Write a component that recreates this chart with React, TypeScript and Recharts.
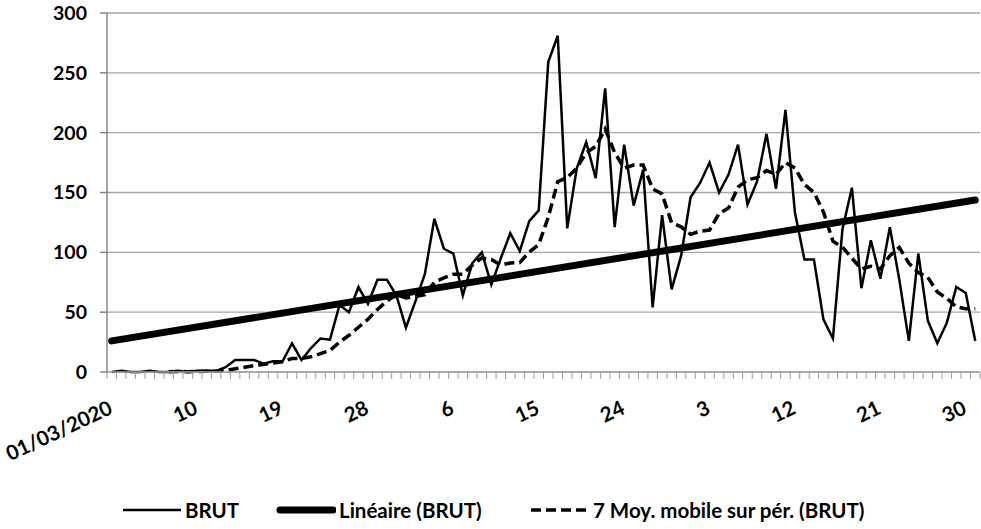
import React from "react";
import { LineChart, Line, XAxis, YAxis, CartesianGrid } from "recharts";

// Categories: 01/03/2020 .. 31/05/2020
const months = [
  { mm: "03", days: 31 },
  { mm: "04", days: 30 },
  { mm: "05", days: 31 },
];
const dates: string[] = [];
months.forEach((m) => {
  for (let d = 1; d <= m.days; d++) {
    dates.push(`${String(d).padStart(2, "0")}/${m.mm}/2020`);
  }
});

// BRUT daily values
const brut = [
  0, 1, 0, 0, 1, 0, 0, 1, 0, 1,
  1, 1, 4, 10, 10, 10, 7, 9, 9, 24,
  10, 20, 28, 27, 56, 50, 71, 57, 77, 77,
  64, 37, 59, 82, 128, 103, 99, 64, 91, 100,
  73, 95, 116, 101, 126, 135, 259, 281, 120, 170,
  192, 162, 237, 121, 190, 139, 169, 54, 131, 69,
  97, 146, 158, 175, 150, 165, 190, 140, 159, 199,
  153, 219, 133, 94, 94, 44, 28, 119, 154, 70,
  110, 78, 121, 77, 26, 99, 43, 24, 41, 71,
  66, 26,
];

// 7-period moving average (starts at the 7th day)
const movingAvg: (number | null)[] = [
  null, null, null, null, null, null, 0.3, 0.4, 0.3, 0.4,
  0.6, 0.6, 1.3, 2.7, 4, 5.4, 6.3, 7.4, 8.6, 11.3,
  11.3, 12.7, 15.3, 18.1, 24.9, 30.7, 37.4, 44.1, 52.3, 59.3,
  64.6, 61.9, 63.1, 64.7, 74.9, 78.6, 81.7, 81.7, 89.4, 95.3,
  94, 89.3, 91.1, 91.4, 100.3, 106.6, 129.3, 159, 162.6, 170.3,
  183.3, 188.4, 203, 183.3, 170.3, 173, 172.9, 153.1, 148.7, 124.7,
  121.3, 115, 117.7, 118.6, 132.3, 137.1, 154.4, 160.6, 162.4, 168.3,
  165.1, 175, 170.4, 156.7, 150.1, 133.7, 109.3, 104.4, 95.1, 86.1,
  88.4, 86.1, 97.1, 104.1, 90.9, 83, 79.1, 66.9, 61.6, 54.4,
  52.9, 52.9,
];

// Linear trend end points
const trendStart = 26;
const trendEnd = 143.7;

const yTicks = [0, 50, 100, 150, 200, 250, 300];
const labelEvery = 9;

const data = dates.map((d, i) => ({
  date: d,
  brut: brut[i],
  ma: movingAvg[i],
  trend: i === 0 ? trendStart : i === dates.length - 1 ? trendEnd : null,
}));

const W = 981;
const H = 529;
const PLOT_LEFT = 107;
const PLOT_RIGHT = 1;
const STEP = (W - PLOT_LEFT - PLOT_RIGHT) / dates.length;
const HALF = STEP / 2;
const FONT = "Lato, 'Open Sans', sans-serif";

const XTick = (props: any) => {
  const { x, y, payload } = props;
  const i: number = payload?.index ?? props.index ?? 0;
  const last = dates.length - 1;
  const show = i % labelEvery === 0;
  const label = i === 0 ? dates[0] : String(parseInt(dates[i].slice(0, 2), 10));
  const ax = x + 2;
  const ay = y + 41;
  return (
    <g>
      <line x1={x - HALF} x2={x - HALF} y1={y} y2={y + 7} stroke="#9a9a9a" strokeWidth={1} />
      {i === last && (
        <line x1={x + HALF} x2={x + HALF} y1={y} y2={y + 7} stroke="#9a9a9a" strokeWidth={1} />
      )}
      {show && (
        <text
          x={ax}
          y={ay}
          textAnchor="end"
          transform={`rotate(-25, ${ax}, ${ay})`}
          fontFamily={FONT}
          fontWeight={700}
          fontSize={20.5}
          fill="#000"
        >
          {label}
        </text>
      )}
    </g>
  );
};

const LegendItem = ({ left, kind, text }: { left: number; kind: string; text: string }) => (
  <div style={{ position: "absolute", left, top: 0, height: 24, display: "flex", alignItems: "center" }}>
    <svg width={60} height={12} style={{ display: "block" }}>
      {kind === "thin" && <line x1={1} x2={59} y1={6} y2={6} stroke="#000" strokeWidth={2.5} />}
      {kind === "thick" && (
        <line x1={4} x2={57} y1={6} y2={6} stroke="#000" strokeWidth={7} strokeLinecap="round" />
      )}
      {kind === "dash" && (
        <line x1={1} x2={60} y1={6} y2={6} stroke="#000" strokeWidth={3.5} strokeDasharray="10 5" />
      )}
    </svg>
    <span style={{ marginLeft: 3, fontFamily: FONT, fontWeight: 700, fontSize: 20.5, color: "#000", whiteSpace: "nowrap" }}>
      {text}
    </span>
  </div>
);

export default function App() {
  return (
    <div style={{ position: "absolute", left: 0, top: 0, width: W, height: H, background: "#fff" }}>
      <LineChart width={W} height={H} data={data} margin={{ top: 13, right: PLOT_RIGHT, bottom: 0, left: 1 }}>
        <CartesianGrid vertical={false} stroke="#a6a6a6" strokeWidth={1.4} />
        <XAxis
          dataKey="date"
          interval={0}
          height={157}
          padding={{ left: HALF, right: HALF }}
          tickLine={false}
          tickSize={0}
          tickMargin={0}
          axisLine={{ stroke: "#a6a6a6", strokeWidth: 1.4 }}
          tick={<XTick />}
        />
        <YAxis
          width={106}
          domain={[0, 300]}
          ticks={yTicks}
          interval={0}
          tickSize={7}
          tickMargin={13}
          axisLine={{ stroke: "#7f7f7f", strokeWidth: 1.4 }}
          tickLine={{ stroke: "#7f7f7f", strokeWidth: 1.4 }}
          tick={{ fontFamily: FONT, fontWeight: 700, fontSize: 19.5, fill: "#000" }}
        />
        <Line
          type="linear"
          dataKey="brut"
          stroke="#000"
          strokeWidth={2.5}
          dot={false}
          activeDot={false}
          isAnimationActive={false}
        />
        <Line
          type="linear"
          dataKey="trend"
          stroke="#000"
          strokeWidth={7}
          strokeLinecap="round"
          connectNulls
          dot={false}
          activeDot={false}
          isAnimationActive={false}
        />
        <Line
          type="linear"
          dataKey="ma"
          stroke="#000"
          strokeWidth={3.5}
          strokeDasharray="10 5"
          dot={false}
          activeDot={false}
          isAnimationActive={false}
        />
      </LineChart>
      <div style={{ position: "absolute", left: 0, top: 498, width: W, height: 24 }}>
        <LegendItem left={122} kind="thin" text="BRUT" />
        <LegendItem left={276} kind="thick" text="Linéaire (BRUT)" />
        <LegendItem left={530} kind="dash" text="7 Moy. mobile sur pér. (BRUT)" />
      </div>
    </div>
  );
}
